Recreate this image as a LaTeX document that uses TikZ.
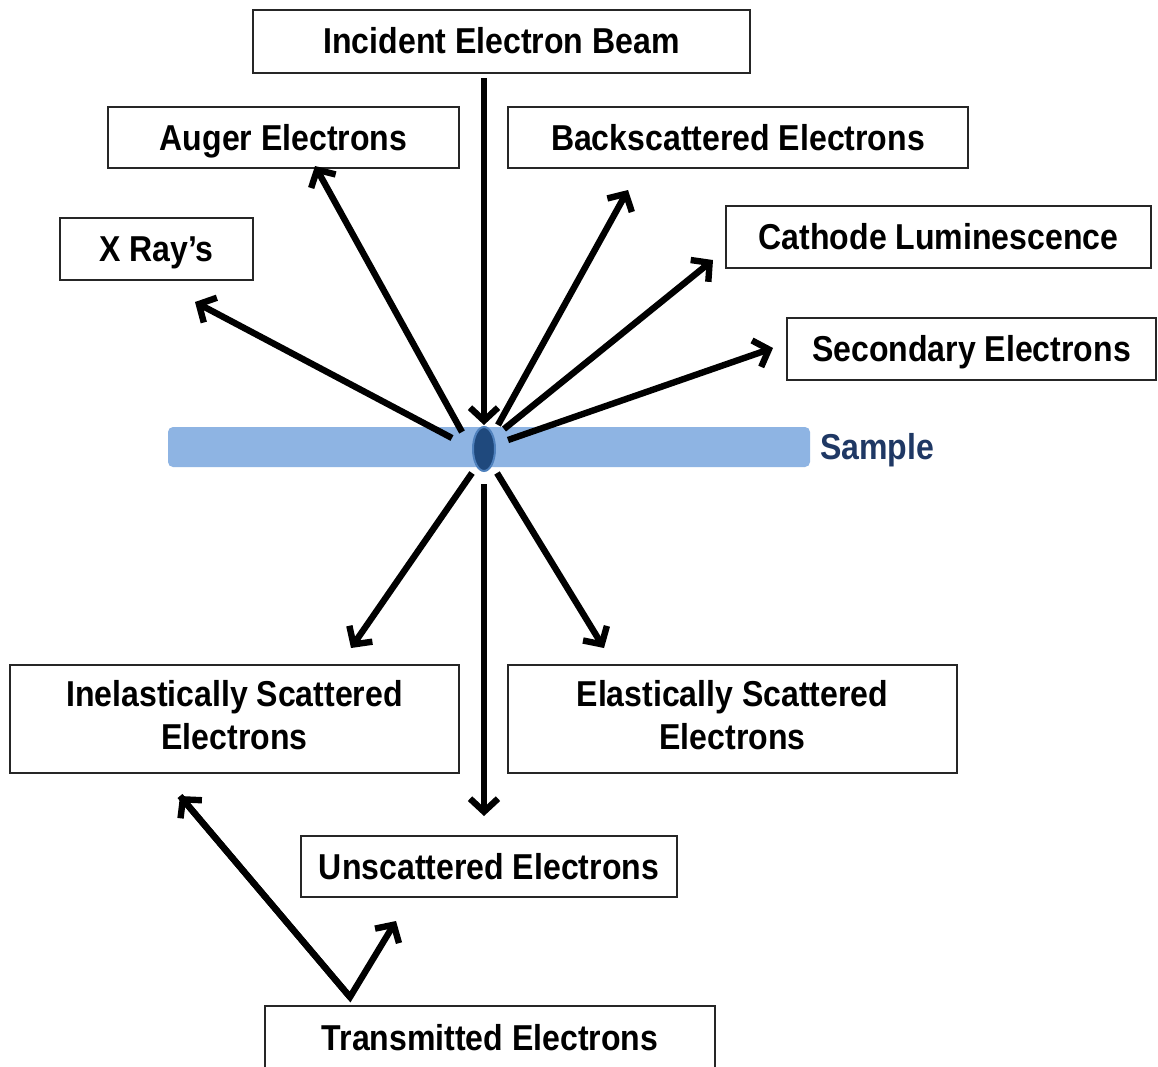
\documentclass[tikz,border=0pt]{standalone}
\usepackage{fontspec}
\setmainfont{Liberation Sans}
\usetikzlibrary{arrows.meta,shapes.geometric}
\newcommand\sqz[1]{\scalebox{0.89}[1]{#1}}
\begin{document}
\begin{tikzpicture}[x=1pt,y=-1pt,
  box/.style={draw=black!85,line width=2pt,fill=white,inner sep=0pt,
    font=\fontsize{36}{44}\selectfont\bfseries,text=black},
  one/.style={text height=25.6pt,text depth=0pt},
  ray/.style={line width=6.4pt,line cap=butt,
    -{Straight Barb[length=13pt,width=28pt,line width=6.4pt]}},
]
\useasboundingbox (0,0) rectangle (1158,1066);
\fill[white] (0,0) rectangle (1158,1066);

% boxes
\node[box,one,minimum width=497,minimum height=63] (inc) at (501.5,41) {\sqz{Incident Electron Beam}};
\node[box,one,minimum width=351,minimum height=61] (aug) at (283.5,137.5) {\sqz{Auger Electrons}};
\node[box,one,minimum width=460,minimum height=61] (back) at (738,137.5) {\sqz{Backscattered Electrons}};
\node[box,one,minimum width=193,minimum height=62] (xray) at (156.5,249) {\sqz{X Ray’s}};
\node[box,one,minimum width=425,minimum height=62] (cath) at (938.5,237) {\sqz{Cathode Luminescence}};
\node[box,one,minimum width=369,minimum height=62] (sec) at (971.5,349) {\sqz{Secondary Electrons}};
\node[box,minimum width=449,minimum height=108] (inel) at (234.5,719)
  {\raisebox{-4pt}{\sqz{\begin{tabular}{@{}c@{}}Inelastically Scattered\\[-1pt]Electrons\end{tabular}}}};
\node[box,minimum width=449,minimum height=108] (elas) at (732.5,719)
  {\raisebox{-4pt}{\sqz{\begin{tabular}{@{}c@{}}Elastically Scattered\\[-1pt]Electrons\end{tabular}}}};
\node[box,one,minimum width=376,minimum height=61] (unsc) at (489,866.5) {\sqz{Unscattered Electrons}};
\node[box,one,minimum width=450,minimum height=64] (trans) at (490,1038) {\sqz{Transmitted Electrons}};

% sample
\definecolor{barblue}{RGB}{142,180,227}
\definecolor{navy}{RGB}{31,56,100}
\definecolor{spotblue}{RGB}{31,73,125}
\definecolor{spotedge}{RGB}{79,129,189}
\node[fill=barblue,rounded corners=5pt,minimum width=642,minimum height=40,inner sep=0pt] (bar) at (489,447) {};
\node[one,font=\fontsize{36}{44}\selectfont\bfseries,text=navy,inner sep=0pt] (samp) at (877,447) {\sqz{Sample}};

% coordinates
\coordinate (inTop) at (484,78);
\coordinate (inTip) at (484,425);
\coordinate (augS) at (462,432);   \coordinate (augT) at (315,166);
\coordinate (xS) at (452,438);     \coordinate (xT) at (195,302);
\coordinate (bS) at (498,425);     \coordinate (bT) at (628,190);
\coordinate (cS) at (504,429);     \coordinate (cT) at (713,260);
\coordinate (sS) at (508,440);     \coordinate (sT) at (773,348);
\coordinate (ilS) at (472,473);    \coordinate (ilT) at (351,648);
\coordinate (elS) at (497,473);    \coordinate (elT) at (604,648);
\coordinate (uS) at (484,484);     \coordinate (uT) at (484,816);
\coordinate (tV) at (350,997);
\coordinate (tL) at (180,796);     \coordinate (tR) at (396,921);

% rays
\draw[ray] (inTop) -- (inTip);
\draw[ray] (augS) -- (augT);
\draw[ray] (xS) -- (xT);
\draw[ray] (bS) -- (bT);
\draw[ray] (cS) -- (cT);
\draw[ray] (sS) -- (sT);
\draw[ray] (ilS) -- (ilT);
\draw[ray] (elS) -- (elT);
\draw[ray] (uS) -- (uT);
\draw[ray,line join=miter] (tL) -- (tV) -- (tR);
\draw[ray] (tV) -- (tL);

% spot
\node[ellipse,draw=spotedge,line width=2pt,fill=spotblue,minimum width=22,minimum height=44,inner sep=0pt] (spot) at (484,449) {};
\end{tikzpicture}
\end{document}
